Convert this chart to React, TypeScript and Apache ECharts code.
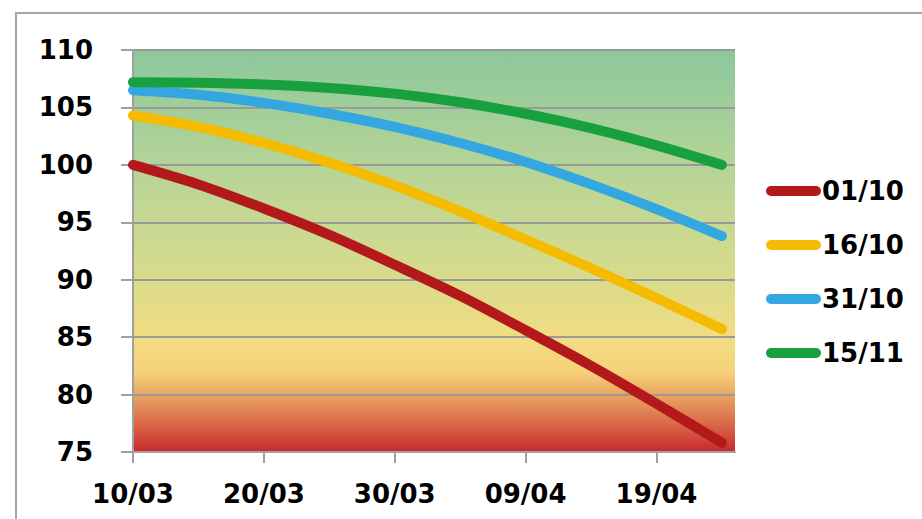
import React, { useEffect, useRef } from "react";
import * as echarts from "echarts";

// Days counted from 10/03
const days = [0, 5, 10, 15, 20, 25, 30, 35, 40, 45];
const tickDays = [0, 10, 20, 30, 40];
const tickLabels = ["10/03", "20/03", "30/03", "09/04", "19/04"];

const seriesNames = ["01/10", "16/10", "31/10", "15/11"];
const red = [100.0, 98.3, 96.2, 93.9, 91.3, 88.6, 85.6, 82.5, 79.2, 75.8];
const yellow = [104.3, 103.3, 101.9, 100.2, 98.2, 95.95, 93.5, 91.0, 88.4, 85.7];
const blue = [106.5, 106.1, 105.4, 104.45, 103.3, 101.9, 100.25, 98.3, 96.15, 93.8];
const green = [107.2, 107.15, 107.0, 106.7, 106.2, 105.45, 104.45, 103.2, 101.7, 100.0];
const colors = ["#B3191A", "#F5BB00", "#35A7E0", "#18A03F"];

const FONT = "'DejaVu Sans'";
const FS = 26;

export default function App() {
  const ref = useRef<HTMLDivElement>(null);
  useEffect(() => {
    if (!ref.current) return;
    const chart = echarts.init(ref.current, undefined, { renderer: "svg" });
    const values = [red, yellow, blue, green];
    const gridBg = new echarts.graphic.LinearGradient(0, 0, 0, 1, [
      { offset: 0, color: "#8CC89D" },
      { offset: 0.35, color: "#BDD695" },
      { offset: 0.56, color: "#D7DB8C" },
      { offset: 0.72, color: "#F2DC82" },
      { offset: 0.8, color: "#F6D27A" },
      { offset: 0.86, color: "#E9A361" },
      { offset: 0.93, color: "#DA6849" },
      { offset: 1, color: "#C6292B" },
    ]);
    chart.setOption({
      animation: false,
      backgroundColor: "#FFFFFF",
      graphic: [
        {
          type: "rect",
          z: -10,
          silent: true,
          shape: { x: 16, y: 13, width: 1000, height: 600 },
          style: { fill: "none", stroke: "#A6A6A6", lineWidth: 2 },
        },
      ],
      grid: {
        left: 133,
        top: 50,
        right: 187,
        bottom: 67,
        show: true,
        backgroundColor: gridBg,
        borderWidth: 0,
      },
      legend: {
        orient: "vertical",
        left: 766,
        top: 178,
        padding: 0,
        itemGap: 28,
        itemWidth: 55,
        itemHeight: 11,
        icon: "path://M5,0 L50,0 A5,5 0 0 1 50,10 L5,10 A5,5 0 0 1 5,0 Z",
        textStyle: {
          fontFamily: FONT,
          fontWeight: "bold",
          fontSize: FS,
          color: "#000",
          padding: [0, 0, 0, -4],
        },
        data: seriesNames,
      },
      xAxis: {
        type: "value",
        min: 0,
        max: 46,
        interval: 10,
        axisLine: { show: true, lineStyle: { color: "#A0A0A0", width: 2 } },
        axisTick: {
          show: true,
          length: 11,
          customValues: tickDays,
          lineStyle: { color: "#A0A0A0", width: 2 },
        },
        splitLine: { show: false },
        axisLabel: {
          customValues: tickDays,
          margin: 29,
          fontFamily: FONT,
          fontWeight: "bold",
          fontSize: FS,
          color: "#000",
          formatter: (v: number) => {
            const i = tickDays.indexOf(v);
            return i >= 0 ? tickLabels[i] : "";
          },
        },
      },
      yAxis: {
        type: "value",
        min: 75,
        max: 110,
        interval: 5,
        axisLine: { show: true, lineStyle: { color: "#A0A0A0", width: 2 } },
        axisTick: { show: true, length: 12, lineStyle: { color: "#A0A0A0", width: 2 } },
        splitLine: { show: true, lineStyle: { color: "#9A9A9A", width: 2 } },
        axisLabel: {
          margin: 40,
          fontFamily: FONT,
          fontWeight: "bold",
          fontSize: FS,
          color: "#000",
        },
      },
      series: seriesNames.map((name, i) => ({
        name,
        type: "line",
        smooth: 0.3,
        symbol: "none",
        data: days.map((d, j) => [d, values[i][j]]),
        lineStyle: { color: colors[i], width: 10, cap: "round" },
        itemStyle: { color: colors[i] },
      })),
    });
    return () => chart.dispose();
  }, []);
  return (
    <div
      ref={ref}
      style={{ position: "fixed", left: 0, top: 0, width: 922, height: 519 }}
    />
  );
}
